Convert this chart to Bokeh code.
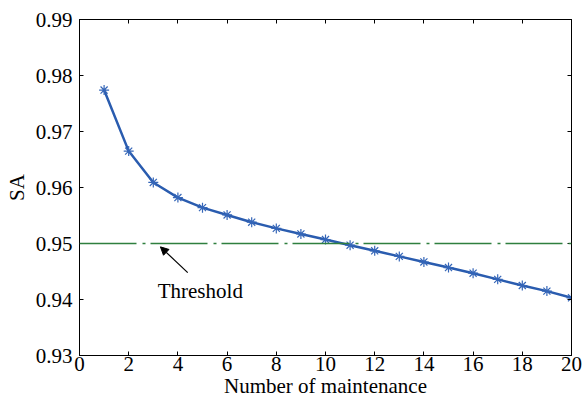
from bokeh.plotting import figure
from bokeh.models import (Range1d, FixedTicker, LinearAxis, Span, Arrow, NormalHead,
                          ColumnDataSource, CustomJSTickFormatter)
from bokeh.core.properties import value
from bokeh.embed import file_html
from bokeh.resources import INLINE

# ---- data ----
maintenance = list(range(1, 21))
sa = [0.9774, 0.9665, 0.9609, 0.9582, 0.9564, 0.9551, 0.9538, 0.9527, 0.9517, 0.9507,
      0.9497, 0.9487, 0.9477, 0.9467, 0.9457, 0.9447, 0.9436, 0.9425, 0.9415, 0.9403]
threshold = 0.95
x_ticks = [0, 2, 4, 6, 8, 10, 12, 14, 16, 18, 20]
y_ticks = [0.93, 0.94, 0.95, 0.96, 0.97, 0.98, 0.99]
x_label = "Number of maintenance"
y_label = "SA"
threshold_text = "Threshold"

FONT = "Liberation Serif"
BLUE = "#2a5caf"
GREEN = "#2f7f3f"

p = figure(width=583, height=402, output_backend="svg", toolbar_location=None,
           x_range=Range1d(0, 20), y_range=Range1d(0.93, 0.99),
           min_border_left=79, min_border_right=12, min_border_top=19, min_border_bottom=47)
p.xgrid.visible = False
p.ygrid.visible = False
p.outline_line_color = "black"
p.outline_line_width = 1
p.background_fill_color = "white"
p.border_fill_color = "white"

def style_axis(ax, ticks, show_labels=True):
    ax.ticker = FixedTicker(ticks=ticks)
    ax.major_tick_in = 4
    ax.major_tick_out = 0
    ax.minor_tick_line_color = None
    ax.axis_line_color = "black"
    ax.major_tick_line_color = "black"
    ax.major_label_text_font = FONT
    ax.major_label_text_font_size = "21px"
    ax.major_label_text_color = "black"
    ax.axis_label_text_font = FONT
    ax.axis_label_text_font_size = "21px"
    ax.axis_label_text_font_style = "normal"
    ax.axis_label_text_color = "black"
    if not show_labels:
        ax.formatter = CustomJSTickFormatter(code="return ''")
        ax.major_label_standoff = 0

xa = p.xaxis[0]
style_axis(xa, x_ticks)
xa.axis_label = x_label
xa.major_label_standoff = 1
xa.axis_label_standoff = 0

ya = p.yaxis[0]
style_axis(ya, y_ticks)
ya.axis_label = y_label
ya.major_label_standoff = 7
ya.axis_label_standoff = 4

top = LinearAxis()
style_axis(top, x_ticks, show_labels=False)
p.add_layout(top, "above")
right = LinearAxis()
style_axis(right, y_ticks, show_labels=False)
p.add_layout(right, "right")

# threshold line
p.add_layout(Span(location=threshold, dimension="width", line_color=GREEN,
                  line_width=1.3, line_dash="57 6 3 5"))

src = ColumnDataSource(dict(x=maintenance, y=sa))
p.line("x", "y", source=src, line_color=BLUE, line_width=2.5)
p.scatter("x", "y", source=src, marker="asterisk", size=10, line_color="#3566b8", line_width=1.2)

# annotation
p.add_layout(Arrow(end=NormalHead(size=8, fill_color="black", line_color="black"),
                   x_start=4.40, y_start=0.9448, x_end=3.29, y_end=0.9494,
                   line_color="black", line_width=1.2))
p.text(x=[3.18], y=[0.9415], text=[threshold_text], text_font=value(FONT),
       text_font_size="21px", text_color="black", text_baseline="alphabetic", text_align="left")

open("out.html", "w").write(file_html(p, INLINE))
